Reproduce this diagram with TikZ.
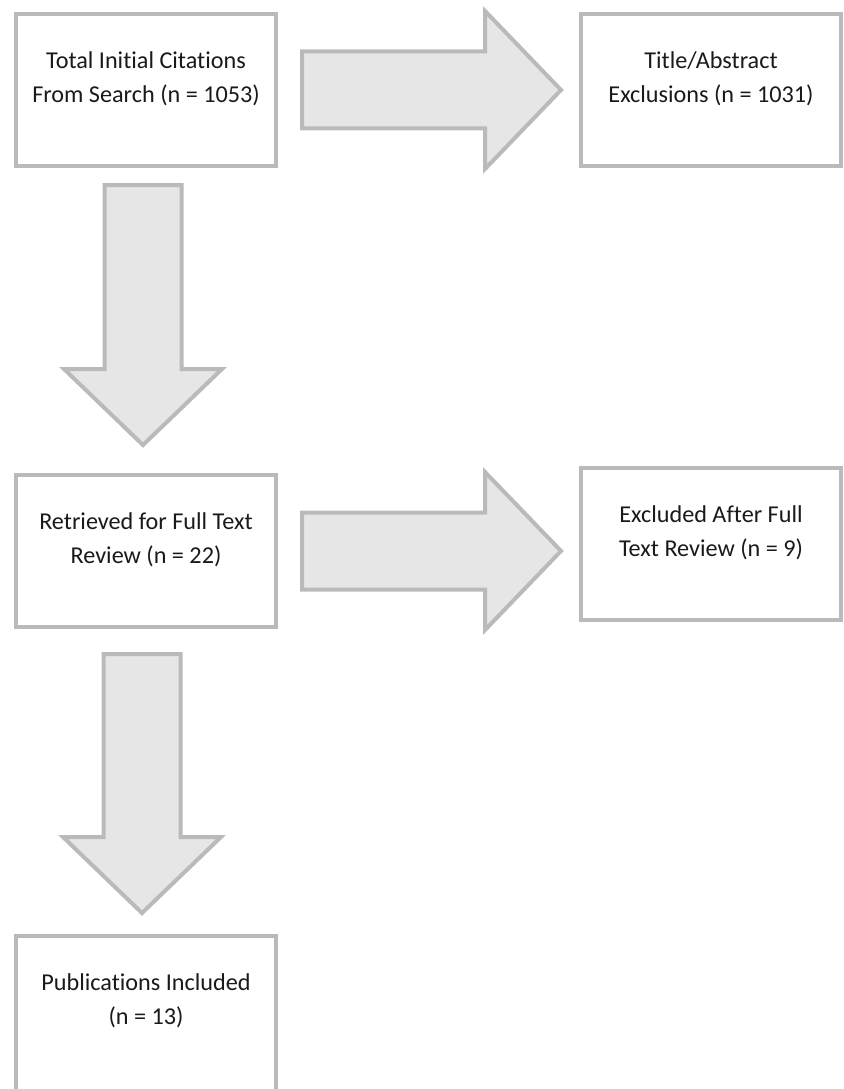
\documentclass[tikz,border=0pt]{standalone}
\usepackage{fontspec}
\setmainfont{Carlito}[Ligatures=NoCommon]
\usetikzlibrary{positioning,calc}
\definecolor{boxBorder}{HTML}{BABABA}
\definecolor{arrowFill}{HTML}{E6E6E6}
\definecolor{labelText}{HTML}{1A1A1A}

\newcommand{\shafthalf}{38.5pt}
\newcommand{\headhalf}{79pt}
\newcommand{\headlen}{76pt}

\begin{document}
\begin{tikzpicture}[
    stagebox/.style={
      rectangle, draw=boxBorder, fill=white, line width=4pt,
      minimum width=260pt, minimum height=152pt, inner sep=0pt
    },
    stagetext/.style={
      align=center, inner sep=0pt,
      font=\fontsize{24.2}{34}\selectfont,
      text=labelText
    },
    blockarrow/.style={draw=boxBorder, fill=arrowFill, line width=4pt, line join=miter}
  ]
    \useasboundingbox (0,0) rectangle (843pt,-1089pt);

    \node[stagebox] (search) at (146pt,-90pt) {};
    \node[stagebox, right=301pt of search] (titleabs) {};
    \node[stagebox, below=305pt of search] (fulltext) {};
    \node[stagebox, right=301pt of fulltext, yshift=7pt] (excluded) {};
    \node[stagebox, below=305pt of fulltext, minimum height=166pt] (included) {};

    \node[stagetext] (search-txt) at ($(search.north)+(0,-67pt)$) {Total Initial Citations\\From Search (n = 1053)};
    \node[stagetext] (titleabs-txt) at ($(titleabs.north)+(0,-67pt)$) {Title/Abstract\\Exclusions (n = 1031)};
    \node[stagetext] (fulltext-txt) at ($(fulltext.north)+(0,-67pt)$) {Retrieved for Full Text\\Review (n = 22)};
    \node[stagetext] (excluded-txt) at ($(excluded.north)+(0,-67pt)$) {Excluded After Full\\Text Review (n = 9)};
    \node[stagetext] (included-txt) at ($(included.north)+(0,-67pt)$) {Publications Included\\(n = 13)};

    % block arrows to the right
    \coordinate (r1s) at ($(search.east)+(24pt,0)$);
    \coordinate (r1t) at ($(titleabs.west |- search.east)+(-18pt,0)$);
    \draw[blockarrow] ($(r1s)+(0,\shafthalf)$) -- ($(r1t)+(-\headlen,\shafthalf)$) -- ($(r1t)+(-\headlen,\headhalf)$) -- (r1t)
      -- ($(r1t)+(-\headlen,-\headhalf)$) -- ($(r1t)+(-\headlen,-\shafthalf)$) -- ($(r1s)+(0,-\shafthalf)$) -- cycle;

    \coordinate (r2s) at ($(fulltext.east)+(24pt,0)$);
    \coordinate (r2t) at ($(excluded.west |- fulltext.east)+(-18pt,0)$);
    \draw[blockarrow] ($(r2s)+(0,\shafthalf)$) -- ($(r2t)+(-\headlen,\shafthalf)$) -- ($(r2t)+(-\headlen,\headhalf)$) -- (r2t)
      -- ($(r2t)+(-\headlen,-\headhalf)$) -- ($(r2t)+(-\headlen,-\shafthalf)$) -- ($(r2s)+(0,-\shafthalf)$) -- cycle;

    % block arrows down
    \coordinate (d1s) at ($(search.south)+(-3pt,-17pt)$);
    \coordinate (d1t) at ($(fulltext.north)+(-3pt,28pt)$);
    \draw[blockarrow] ($(d1s)+(-\shafthalf,0)$) -- ($(d1t)+(-\shafthalf,\headlen)$) -- ($(d1t)+(-\headhalf,\headlen)$) -- (d1t)
      -- ($(d1t)+(\headhalf,\headlen)$) -- ($(d1t)+(\shafthalf,\headlen)$) -- ($(d1s)+(\shafthalf,0)$) -- cycle;

    \coordinate (d2s) at ($(fulltext.south)+(-4pt,-25pt)$);
    \coordinate (d2t) at ($(included.north)+(-4pt,21pt)$);
    \draw[blockarrow] ($(d2s)+(-\shafthalf,0)$) -- ($(d2t)+(-\shafthalf,\headlen)$) -- ($(d2t)+(-\headhalf,\headlen)$) -- (d2t)
      -- ($(d2t)+(\headhalf,\headlen)$) -- ($(d2t)+(\shafthalf,\headlen)$) -- ($(d2s)+(\shafthalf,0)$) -- cycle;
\end{tikzpicture}
\end{document}
